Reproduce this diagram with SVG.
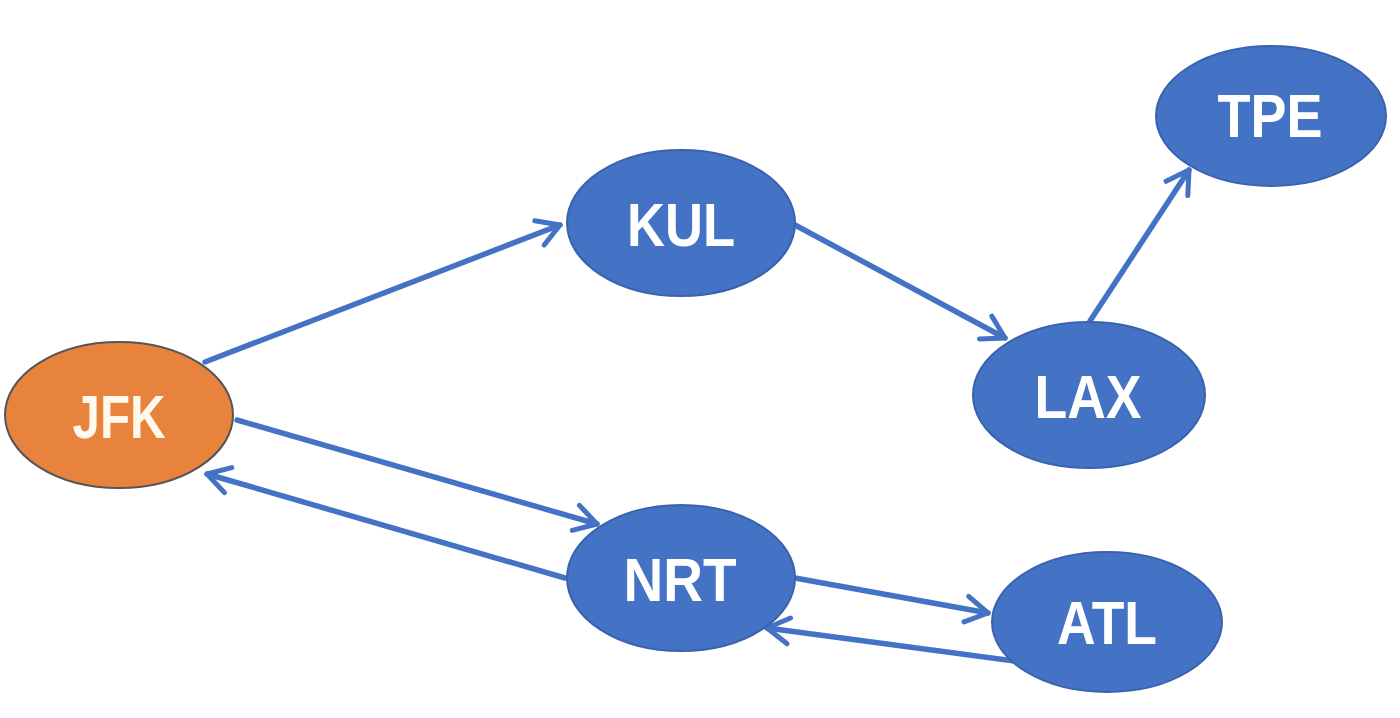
<svg xmlns="http://www.w3.org/2000/svg" width="1400" height="718" viewBox="0 0 1400 718">
<defs>
<marker id="arr" markerUnits="userSpaceOnUse" markerWidth="34" markerHeight="34" viewBox="0 0 34 34" refX="30" refY="17" orient="auto">
<path d="M8,4 L30,17 L8,30" fill="none" stroke="#4472C4" stroke-width="5" stroke-linecap="round" stroke-linejoin="round"/>
</marker>
<style>
.edge{stroke:#4472C4;stroke-width:5.5;fill:none;marker-end:url(#arr);stroke-linecap:round}
.blue{fill:#4472C4;stroke:#3A62AE;stroke-width:2}
.orange{fill:#E8833E;stroke:#555555;stroke-width:2}
.lbl{font-family:"Liberation Sans",Arial,sans-serif;font-weight:bold;font-size:62px;fill:#FFFFFF;text-anchor:middle}
</style>
</defs>
<rect width="1400" height="718" fill="#FFFFFF"/>
<g id="connectors">
<line class="edge" x1="205" y1="362" x2="560" y2="225"/>
<line class="edge" x1="237" y1="420" x2="597" y2="524"/>
<line class="edge" x1="565" y1="578" x2="207" y2="474"/>
<line class="edge" x1="795" y1="225" x2="1005" y2="338"/>
<line class="edge" x1="1090" y1="321" x2="1189" y2="170"/>
<line class="edge" x1="795" y1="578" x2="988" y2="613"/>
<line class="edge" x1="1022" y1="662" x2="767" y2="628"/>
</g>
<g id="node-JFK">
<ellipse class="orange" cx="119" cy="415" rx="114" ry="73"/>
<text class="lbl" x="119" y="438" textLength="93" lengthAdjust="spacingAndGlyphs" style="fill:#FFF9EC">JFK</text>
</g>
<g id="node-KUL">
<ellipse class="blue" cx="681" cy="223" rx="114" ry="73"/>
<text class="lbl" x="681" y="246" textLength="108" lengthAdjust="spacingAndGlyphs">KUL</text>
</g>
<g id="node-LAX">
<ellipse class="blue" cx="1089" cy="395" rx="116" ry="73"/>
<text class="lbl" x="1088" y="418" textLength="107" lengthAdjust="spacingAndGlyphs">LAX</text>
</g>
<g id="node-TPE">
<ellipse class="blue" cx="1271" cy="116" rx="115" ry="70"/>
<text class="lbl" x="1270" y="137" textLength="105" lengthAdjust="spacingAndGlyphs">TPE</text>
</g>
<g id="node-NRT">
<ellipse class="blue" cx="681" cy="578" rx="114" ry="73"/>
<text class="lbl" x="680" y="601" textLength="113" lengthAdjust="spacingAndGlyphs">NRT</text>
</g>
<g id="node-ATL">
<ellipse class="blue" cx="1107" cy="622" rx="115" ry="70"/>
<text class="lbl" x="1107" y="644" textLength="100" lengthAdjust="spacingAndGlyphs">ATL</text>
</g>
</svg>
